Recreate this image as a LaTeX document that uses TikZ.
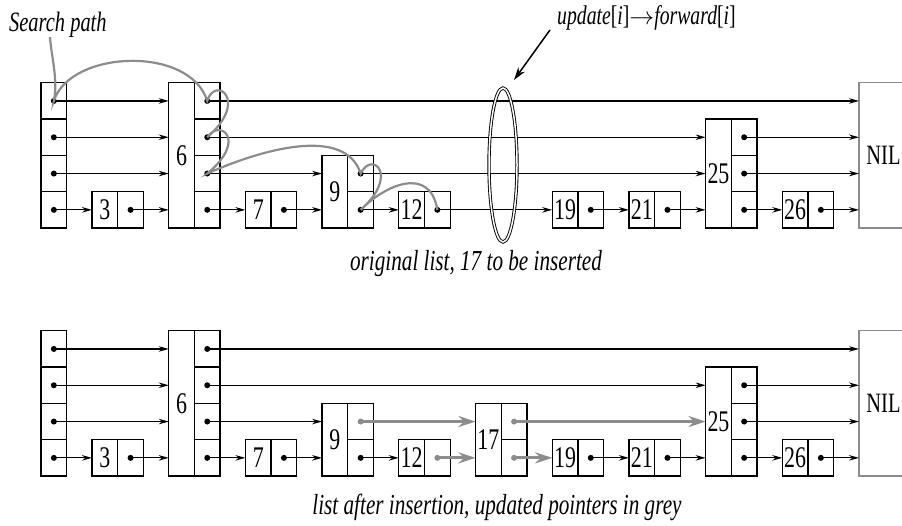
\documentclass[tikz,border=0pt]{standalone}
\usepackage{fontspec}
\setmainfont{Liberation Serif}[FakeStretch=0.73]
\usetikzlibrary{arrows.meta,shapes.geometric}

% one skip list: prefix, base line, towers (column/levels/key)
\newcommand{\skiplist}[3]{%
  \foreach \l in {1,...,4}
    \node[ptrcell] (#1h-\l) at (41,{#2-36.3*(\l-1)}) {};
  \foreach \c/\n/\k in {#3} {
    \node[box, minimum height=\n*36.3pt] (#1\k) at ({15.3+76.7*\c},#2) {\k};
    \foreach \l in {1,...,\n}
      \node[ptrcell] (#1\k-\l) at ({41+76.7*\c},{#2-36.3*(\l-1)}) {};
  }
  \node[box, draw=black!45, minimum width=49pt, minimum height=145.2pt,
        font=\fontsize{28}{28}\selectfont] (#1nil) at (859,#2) {NIL};
}
% forward pointers of one level: prefix, level, source/target pairs
\newcommand{\links}[3]{%
  \foreach \s/\t in {#3} {
    \fill (#1\s-#2.center) circle (3pt);
    \draw[ptr] (#1\s-#2.center) -- (#1\s-#2.center -| #1\t.west);
  }
}

\begin{document}
\begin{tikzpicture}[x=1pt, y=-1pt, >={Stealth[length=10pt,width=5.5pt]},
    box/.style={draw, line width=1.3pt, minimum width=25.7pt, inner sep=0pt,
                outer sep=0pt, anchor=south west, font=\fontsize{30}{30}\selectfont},
    ptrcell/.style={box, minimum height=36.3pt},
    ptr/.style={->, line width=1.2pt},
    newptr/.style={line width=3pt, black!45, -{Stealth[length=17pt,width=11pt]}},
    search/.style={black!45, line width=2.2pt},
    caption/.style={font=\fontsize{29}{29}\selectfont\itshape, anchor=base, inner sep=0pt}]
  \useasboundingbox (0,0) rectangle (902,525);

  % Original list
  \skiplist{a}{228}{1/1/3,2/4/6,3/1/7,4/2/9,5/1/12,7/1/19,8/1/21,9/3/25,10/1/26}
  \links{a}{1}{h/3,3/6,6/7,7/9,9/12,12/19,19/21,21/25,25/26,26/nil}
  \links{a}{2}{h/6,6/9,9/25,25/nil}
  \links{a}{3}{h/6,6/25,25/nil}
  \links{a}{4}{h/6,6/nil}

  % Search path
  \node[font=\fontsize{28}{28}\selectfont\itshape, anchor=base west, inner sep=0pt]
    (spl) at (9,31) {Search path};
  \draw[search] ([xshift=-8pt]spl.south) .. controls (52,60) and (58,80) .. (ah-4.center)
    .. controls (70,50) and (190,45) .. (a6-4.center)
    .. controls (215,75) and (250,100) .. (a6-3.center)
    .. controls (220,118) and (248,140) .. (a6-2.center)
    .. controls (260,150) and (345,125) .. (a9-2.center)
    .. controls (372,150) and (400,175) .. (a9-1.center)
    .. controls (385,185) and (430,165) .. (a12-1.center);

  % Ring round the pointers to be updated
  \node[ellipse, draw, double, line width=0.9pt, double distance=1.5pt,
        minimum width=28pt, minimum height=154pt, inner sep=0pt] (ring) at (503,165) {};
  \node[font=\fontsize{27}{27}\selectfont, anchor=base west, inner sep=0pt]
    (upd) at (557,24) {\textit{update}[\textit{i}]$\rightarrow$\textit{forward}[\textit{i}]};
  \coordinate (tip) at (514,80);
  \draw[-{Stealth[length=13pt,width=8pt]}, line width=1.5pt] ([xshift=-7pt]upd.south west) -- (tip);

  \node[caption] (cap1) at (476,270) {original list, 17 to be inserted};

  % List after insertion
  \skiplist{b}{476}{1/1/3,2/4/6,3/1/7,4/2/9,5/1/12,6/2/17,7/1/19,8/1/21,9/3/25,10/1/26}
  \links{b}{1}{h/3,3/6,6/7,7/9,9/12,19/21,21/25,25/26,26/nil}
  \links{b}{2}{h/6,6/9,25/nil}
  \links{b}{3}{h/6,6/25,25/nil}
  \links{b}{4}{h/6,6/nil}
  % updated pointers
  \foreach \s/\t/\l in {12/17/1, 17/19/1, 9/17/2, 17/25/2} {
    \fill[black!45] (b\s-\l.center) circle (3pt);
    \draw[newptr] (b\s-\l.center) -- (b\s-\l.center -| b\t.west);
  }

  \node[caption] (cap2) at (497,514) {list after insertion, updated pointers in grey};
\end{tikzpicture}
\end{document}
